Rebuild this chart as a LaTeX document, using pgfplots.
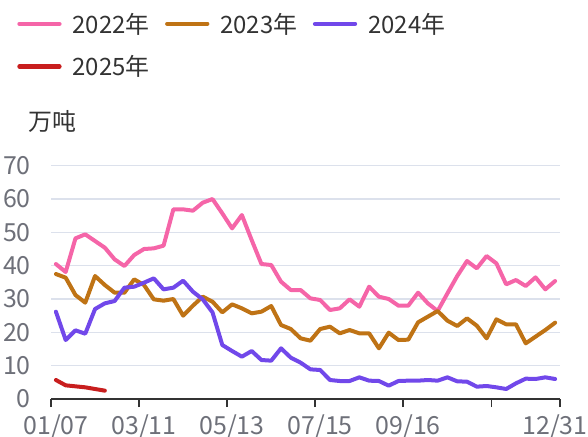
\documentclass[border=0pt]{standalone}
\usepackage{fontspec}
\setmainfont{Noto Sans CJK SC}
\usepackage{pgfplots}
\pgfplotsset{compat=1.18}
\definecolor{cA}{HTML}{F565A8}
\definecolor{cB}{HTML}{BF7315}
\definecolor{cC}{HTML}{7148EA}
\definecolor{cD}{HTML}{C81E1E}
\definecolor{gridc}{HTML}{DCE1EC}
\definecolor{tickc}{HTML}{6E7079}
\definecolor{txtc}{HTML}{333333}
\begin{document}
\begin{tikzpicture}
\path[use as bounding box] (0,0) rectangle (588bp,437bp);
\begin{axis}[
  at={(51bp,38bp)}, anchor=south west,
  scale only axis, width=509bp, height=233.3bp,
  xmin=-0.5, xmax=51.5, ymin=0, ymax=70,
  axis lines=left,
  x axis line style={-, draw=txtc, line width=1.8bp},
  y axis line style={draw=none},
  ytick={0,10,...,70},
  ytick style={draw=none},
  ymajorgrids, grid style={draw=gridc, line width=1.4bp},
  xtick={-0.5,8.5,17.5,26.5,35.5,44.5,51.5},
  xticklabels={},
  xtick style={draw=txtc, line width=1.8bp},
  xtick align=outside,
  major tick length=8bp,
  extra x ticks={0,9,18,27,36,51},
  extra x tick labels={01/07,03/11,05/13,07/15,09/16,12/31},
  extra x tick style={major tick length=0pt, tick style={draw=none},
     xticklabel style={anchor=north, inner sep=0pt, yshift=-16bp}},
  xticklabel style={font=\fontsize{25}{28}\selectfont, text=tickc},
  yticklabel style={font=\fontsize{25}{28}\selectfont, text=tickc, anchor=east, inner sep=0pt, xshift=-16bp},
  /pgf/number format/assume math mode=true,
  ylabel={万吨},
  ylabel style={rotate=-90, at={(axis description cs:0.002,1.1886)}, anchor=center, font=\fontsize{24}{28}\selectfont, text=txtc},
  legend columns=3,
  legend style={at={(axis description cs:-0.0662,1.6545)}, anchor=north west,
     draw=none, fill=none, inner sep=0pt, outer sep=0pt,
     font=\fontsize{24}{28}\selectfont, text=txtc,
     nodes={inner sep=0pt, anchor=west},
     row sep=21bp,
     /tikz/every odd column/.append style={column sep=11bp},
     /tikz/every even column/.append style={column sep=15.5bp}},
  legend cell align=left,
  legend image code/.code={\draw[#1, line width=4.3bp] (0bp,0bp) -- (40bp,0bp);},
  every axis plot/.append style={line width=4bp, line join=round, line cap=round, mark=none},
]
\addplot[cA] coordinates {
(0,40.5)(1,38.1)(2,48.2)(3,49.4)(4,47.4)(5,45.4)(6,41.9)(7,39.9)(8,43.2)(9,45.0)
(10,45.2)(11,46.0)(12,56.9)(13,56.9)(14,56.5)(15,58.9)(16,60.0)(17,55.7)(18,51.2)(19,55.2)
(20,47.7)(21,40.5)(22,40.2)(23,35.2)(24,32.7)(25,32.7)(26,30.2)(27,29.7)(28,26.7)(29,27.2)
(30,29.9)(31,27.7)(32,33.7)(33,30.7)(34,30.0)(35,28.0)(36,28.0)(37,31.9)(38,28.7)(39,26.4)
(40,31.7)(41,36.9)(42,41.4)(43,39.2)(44,42.9)(45,40.7)(46,34.4)(47,35.7)(48,33.9)(49,36.5)
(50,32.9)(51,35.4)};
\addlegendentry{2022年}
\addplot[cB] coordinates {
(0,37.5)(1,36.4)(2,31.2)(3,28.9)(4,36.9)(5,34.2)(6,31.9)(7,31.9)(8,35.9)(9,34.2)
(10,29.9)(11,29.5)(12,30.0)(13,25.0)(14,28.0)(15,30.7)(16,29.2)(17,26.0)(18,28.4)(19,27.2)
(20,25.7)(21,26.2)(22,27.9)(23,22.2)(24,21.0)(25,18.2)(26,17.5)(27,21.0)(28,21.7)(29,19.7)
(30,20.7)(31,19.7)(32,19.7)(33,15.2)(34,19.9)(35,17.7)(36,17.8)(37,23.0)(38,24.7)(39,26.4)
(40,23.5)(41,21.9)(42,24.2)(43,22.0)(44,18.2)(45,23.9)(46,22.4)(47,22.4)(48,16.7)(49,18.7)
(50,20.7)(51,22.9)};
\addlegendentry{2023年}
\addplot[cC] coordinates {
(0,26.2)(1,17.7)(2,20.6)(3,19.6)(4,27.0)(5,28.7)(6,29.4)(7,33.4)(8,33.7)(9,34.9)
(10,36.2)(11,32.9)(12,33.4)(13,35.5)(14,32.2)(15,29.9)(16,26.0)(17,16.2)(18,14.4)(19,12.7)
(20,14.4)(21,11.7)(22,11.5)(23,15.2)(24,12.4)(25,10.9)(26,8.9)(27,8.7)(28,5.7)(29,5.4)
(30,5.4)(31,6.5)(32,5.5)(33,5.4)(34,4.0)(35,5.4)(36,5.5)(37,5.5)(38,5.7)(39,5.5)
(40,6.5)(41,5.3)(42,5.2)(43,3.7)(44,3.9)(45,3.5)(46,3.0)(47,4.7)(48,6.1)(49,6.0)
(50,6.5)(51,6.0)};
\addlegendentry{2024年}
\addplot[cD] coordinates {
(0,5.7)(1,4.1)(2,3.8)(3,3.5)(4,3.0)(5,2.5)};
\addlegendentry{2025年}
\end{axis}
\end{tikzpicture}
\end{document}
